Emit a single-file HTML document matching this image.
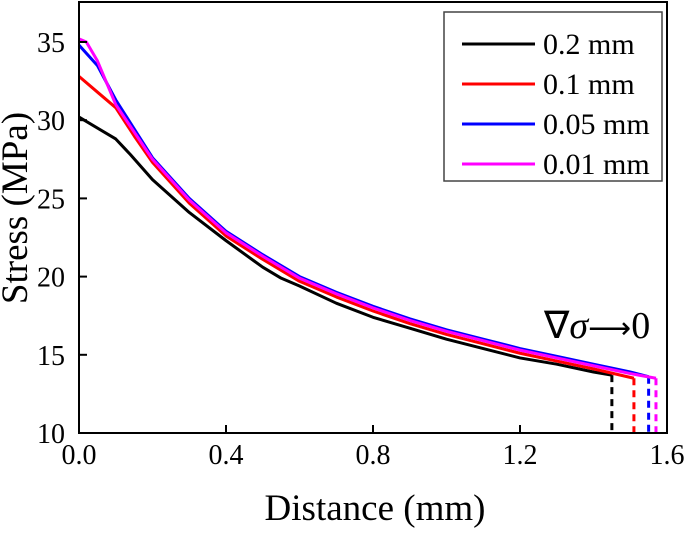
<!DOCTYPE html>
<html><head><meta charset="utf-8"><style>
body{margin:0;background:#fff}
svg text{font-family:"Liberation Serif",serif;fill:#000}
</style></head><body>
<svg width="685" height="530">
<g id="plot"></g>
</svg>
<script>
const xTicks=[0.0,0.4,0.8,1.2,1.6];
const xTickLabels=["0.0","0.4","0.8","1.2","1.6"];
const yTicks=[10,15,20,25,30,35];
const seriesNames=["0.2 mm","0.1 mm","0.05 mm","0.01 mm"];
const seriesColors=["#000","#f00","#00f","#f0f"];
const xBlack=[0,0.1,0.14,0.2,0.3,0.4,0.5,0.55,0.6,0.7,0.8,0.9,1.0,1.1,1.2,1.3,1.4,1.45];
const yBlack=[30.2,28.8,27.8,26.2,24.1,22.3,20.6,19.9,19.4,18.3,17.4,16.7,16.0,15.4,14.8,14.4,13.9,13.7];
const xRed=[0,0.05,0.1,0.15,0.2,0.3,0.4,0.5,0.6,0.7,0.8,0.9,1.0,1.1,1.2,1.3,1.4,1.51];
const yRed=[32.8,31.8,30.8,29.0,27.3,24.7,22.6,21.1,19.7,18.7,17.8,17.0,16.3,15.7,15.1,14.6,14.1,13.5];
const xBlue=[0,0.05,0.1,0.2,0.3,0.4,0.5,0.6,0.7,0.8,0.9,1.0,1.1,1.2,1.3,1.4,1.5,1.55];
const yBlue=[34.8,33.5,31.3,27.6,25.0,22.9,21.4,20.0,19.0,18.1,17.3,16.6,16.0,15.4,14.9,14.4,13.9,13.6];
const xMag=[0,0.02,0.05,0.1,0.2,0.3,0.4,0.5,0.6,0.7,0.8,0.9,1.0,1.1,1.2,1.3,1.4,1.5,1.57];
const yMag=[35.2,35.0,33.8,31.0,27.5,24.9,22.8,21.3,19.9,18.9,18.0,17.2,16.5,15.9,15.3,14.8,14.3,13.8,13.5];
const ends=[1.45,1.51,1.55,1.57];

const X=v=>79+v*367.5, Y=v=>433-(v-10)*15.64;
const NS="http://www.w3.org/2000/svg", g=document.getElementById('plot');
function mk(t,a,txt){const e=document.createElementNS(NS,t);for(const k in a)e.setAttribute(k,a[k]);if(txt!==undefined)e.textContent=txt;g.appendChild(e);return e;}
const series=[[xBlack,yBlack],[xRed,yRed],[xBlue,yBlue],[xMag,yMag]];
series.forEach((s,i)=>{
  const p=mk('polyline',{points:s[0].map((x,j)=>X(x)+','+Y(s[1][j])).join(' '),fill:'none',stroke:seriesColors[i],'stroke-width':3,'stroke-linejoin':'round'});
  
  
  const last=s[1][s[1].length-1];
  const d=mk('line',{x1:X(ends[i]),x2:X(ends[i]),y1:Y(last),y2:Y(10),stroke:seriesColors[i],'stroke-width':3,'stroke-dasharray':'7,5'});
  
  
});
const f=mk('rect',{x:79,y:2,width:588,height:431,fill:'none',stroke:'#000','stroke-width':2});


xTicks.forEach((v,i)=>{
  mk('line',{x1:X(v),x2:X(v),y1:433,y2:425,stroke:'#000','stroke-width':2});
  const t=mk('text',{x:X(v),y:464,'font-size':28,'text-anchor':'middle'},xTickLabels[i]);
  
  
});
yTicks.forEach(v=>{
  mk('line',{x1:79,x2:87,y1:Y(v),y2:Y(v),stroke:'#000','stroke-width':2});
  const t=mk('text',{x:65,y:Y(v)+10,'font-size':28,'text-anchor':'end'},v);
  
  
});
const xt=mk('text',{x:375,y:520,'font-size':37,'text-anchor':'middle'},'Distance (mm)');


const yt=mk('text',{x:0,y:0,'font-size':37,'text-anchor':'middle',transform:'translate(27,208) rotate(-90)'},'Stress (MPa)');


const an=mk('text',{x:544,y:338,'font-size':38},'');
an.innerHTML='∇<tspan font-style="italic">σ</tspan><tspan font-family="DejaVu Sans" font-size="30">⟶</tspan>0';


const lb=mk('rect',{x:444,y:12,width:218,height:169,fill:'#fff',stroke:'#444','stroke-width':1.5});


seriesNames.forEach((n,i)=>{
  const yy=44+i*40;
  mk('line',{x1:462,x2:535,y1:yy,y2:yy,stroke:seriesColors[i],'stroke-width':3});
  const t=mk('text',{x:543,y:yy+10,'font-size':30},n);
  
  
});
</script>
</body></html>
